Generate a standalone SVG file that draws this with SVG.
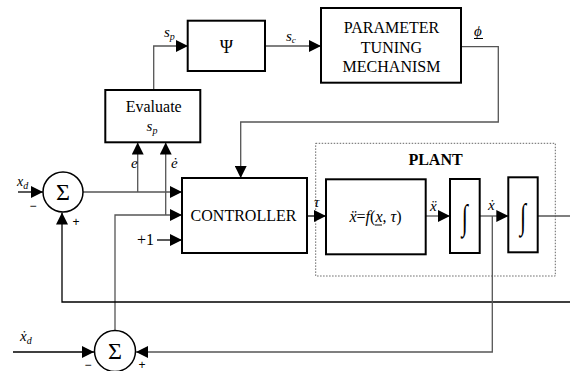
<svg xmlns="http://www.w3.org/2000/svg" width="570" height="371" viewBox="0 0 570 371">
<style>
.box{fill:#fff;stroke:#000;stroke-width:2}
.sum{fill:#fff;stroke:#000;stroke-width:1.5}
.c{fill:none;stroke:#555;stroke-width:1.3}
.k{fill:none;stroke:#000;stroke-width:1.3}
.t{font-family:"Liberation Serif","DejaVu Serif","Times New Roman",serif;fill:#000}
.i{font-family:"Liberation Serif","DejaVu Serif","Times New Roman",serif;font-style:italic;fill:#000}
.s{font-family:"Liberation Sans",Arial,sans-serif;fill:#000;font-size:12px}
</style>
<defs>
<marker id="a" markerUnits="userSpaceOnUse" markerWidth="12" markerHeight="12" viewBox="0 0 12 12" refX="12" refY="6" orient="auto">
<path d="M0,0 L12,6 L0,12 z" fill="#000"/>
</marker>
</defs>
<rect x="0" y="0" width="570" height="371" fill="#fff"/>

<g id="plant">
<rect x="315.7" y="143.3" width="239.6" height="132.7" fill="none" stroke="#666" stroke-width="1" stroke-dasharray="1.5,1.5"/>
<text class="t" x="435.5" y="164.5" font-size="16" font-weight="bold" text-anchor="middle">PLANT</text>
</g>

<g id="connectors">
<line class="k" x1="18" y1="192" x2="43" y2="192" marker-end="url(#a)"/>
<line class="c" x1="83" y1="192" x2="182" y2="192" marker-end="url(#a)"/>
<line class="c" x1="137.7" y1="192" x2="137.7" y2="142.5" marker-end="url(#a)"/>
<line class="c" x1="165.7" y1="215" x2="165.7" y2="142.5" marker-end="url(#a)"/>
<polyline class="c" points="115,330 115,215 182,215" marker-end="url(#a)"/>
<line class="k" x1="157" y1="240" x2="182" y2="240" marker-end="url(#a)"/>
<polyline class="c" points="153.7,90 153.7,46 188,46" marker-end="url(#a)"/>
<line class="c" x1="265" y1="46" x2="321" y2="46" marker-end="url(#a)"/>
<polyline class="c" points="461,46.7 498.3,46.7 498.3,122 240.7,122 240.7,178" marker-end="url(#a)"/>
<line class="k" x1="307" y1="216" x2="326" y2="216" marker-end="url(#a)"/>
<line class="c" x1="425.7" y1="216" x2="450" y2="216" marker-end="url(#a)"/>
<line class="c" x1="479.7" y1="216" x2="508.3" y2="216" marker-end="url(#a)"/>
<line class="c" x1="537.7" y1="216" x2="570" y2="216"/>
<polyline class="k" points="570,302 62,302 62,212.5" marker-end="url(#a)"/>
<polyline class="c" points="492.3,216 492.3,352 136,352" marker-end="url(#a)"/>
<line class="k" x1="13" y1="352" x2="94" y2="352" marker-end="url(#a)"/>
</g>

<g id="sum1">
<circle class="sum" cx="63" cy="192" r="20"/>
<text class="t" x="63" y="200" font-size="24" text-anchor="middle">Σ</text>
<text class="s" x="33" y="210" text-anchor="middle">−</text>
<text class="s" x="76" y="226" text-anchor="middle">+</text>
</g>

<g id="sum2">
<circle class="sum" cx="115" cy="351" r="20.5"/>
<text class="t" x="115" y="359" font-size="24" text-anchor="middle">Σ</text>
<text class="s" x="88" y="369" text-anchor="middle">−</text>
<text class="s" x="142" y="369" text-anchor="middle">+</text>
</g>

<g id="evaluate">
<rect class="box" x="105.3" y="90" width="95" height="52.3"/>
<text class="t" x="153.7" y="112" font-size="16" text-anchor="middle">Evaluate</text>
<text class="i" x="152" y="131" font-size="15" text-anchor="middle">s<tspan font-size="10" dy="3">p</tspan></text>
</g>

<g id="psi">
<rect class="box" x="187.7" y="20.7" width="77.3" height="50.3"/>
<text class="t" x="226.3" y="53" font-size="18" text-anchor="middle">Ψ</text>
</g>

<g id="ptm">
<rect class="box" x="321" y="8" width="140" height="74.7"/>
<text class="t" x="391.5" y="33" font-size="16" text-anchor="middle">PARAMETER</text>
<text class="t" x="391.5" y="52.5" font-size="16" text-anchor="middle">TUNING</text>
<text class="t" x="391.5" y="71.5" font-size="16" text-anchor="middle">MECHANISM</text>
</g>

<g id="controller">
<rect class="box" x="182" y="178" width="125" height="75"/>
<text class="t" x="243.5" y="221" font-size="16" text-anchor="middle">CONTROLLER</text>
</g>

<g id="dynamics">
<rect class="box" x="326" y="179.3" width="99.7" height="75"/>
<text class="i" x="375.5" y="222" font-size="16" text-anchor="middle">ẍ<tspan font-style="normal">=</tspan>f<tspan font-style="normal">(</tspan>x<tspan font-style="normal">, </tspan>τ<tspan font-style="normal">)</tspan></text>
<line x1="375" y1="225" x2="382" y2="225" stroke="#000" stroke-width="1"/>
</g>

<g id="int1">
<rect class="box" x="450" y="179" width="29.7" height="74"/>
<text class="t" transform="translate(464.8,229) scale(1,1.6)" x="0" y="0" font-size="22" text-anchor="middle">∫</text>
</g>

<g id="int2">
<rect class="box" x="508.3" y="177.3" width="29.4" height="75"/>
<text class="t" transform="translate(523,228) scale(1,1.6)" x="0" y="0" font-size="22" text-anchor="middle">∫</text>
</g>

<g id="labels">
<text class="i" x="17" y="186" font-size="14">x<tspan font-size="10" dy="3">d</tspan></text>
<text class="i" x="131" y="168" font-size="15">e</text>
<text class="i" x="171" y="168" font-size="15">ė</text>
<text class="t" x="137" y="245" font-size="16">+1</text>
<text class="i" x="164" y="37" font-size="15">s<tspan font-size="10" dy="3">p</tspan></text>
<text class="i" x="286" y="41" font-size="15">s<tspan font-size="9" dy="2">c</tspan></text>
<text class="i" x="474" y="36" font-size="15">ϕ</text>
<line x1="474" y1="38.5" x2="483" y2="38.5" stroke="#000" stroke-width="1"/>
<text class="i" x="314" y="207" font-size="15">τ</text>
<text class="i" x="430" y="211" font-size="15">ẍ</text>
<text class="i" x="488" y="210" font-size="15">ẋ</text>
<text class="i" x="20" y="341" font-size="15">ẋ<tspan font-size="10" dy="3">d</tspan></text>
</g>
</svg>
